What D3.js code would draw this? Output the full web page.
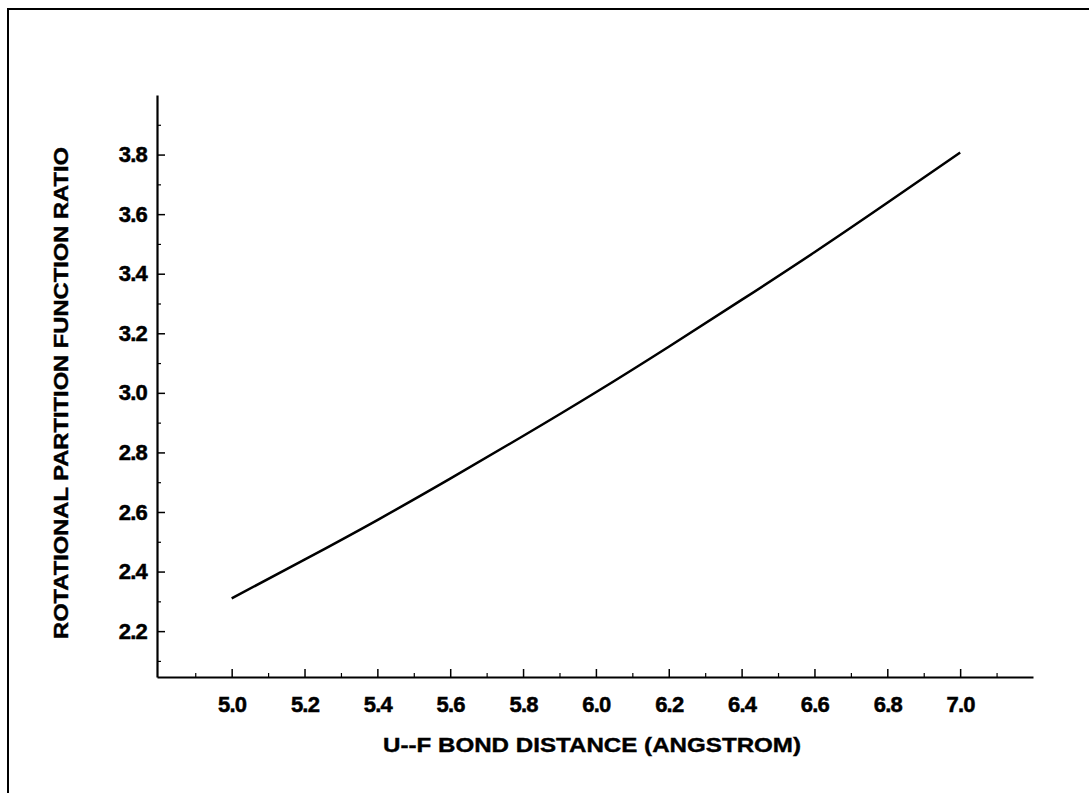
<html>
<script src="https://d3js.org/d3.v7.min.js"></script>
<style>
body{
    margin:0;
    background:#fff;
}
text{
    font-family:"Liberation Sans", Arial, sans-serif;
    font-weight:bold;
}
</style>
<body>
<div class="chart"></div>
</body>
<script>
const width = 1089;
const height = 793;

// curve
const distance = [5.0, 5.2, 5.4, 5.6, 5.8, 6.0, 6.2, 6.4, 6.6, 6.8, 7.0];
const ratio = [2.31, 2.44, 2.573, 2.712, 2.855, 3.002, 3.155, 3.312, 3.472, 3.638, 3.807];

const xMajor = [5.0, 5.2, 5.4, 5.6, 5.8, 6.0, 6.2, 6.4, 6.6, 6.8, 7.0];
const xMinor = [4.9, 5.1, 5.3, 5.5, 5.7, 5.9, 6.1, 6.3, 6.5, 6.7, 6.9, 7.1];
const yMajor = [2.2, 2.4, 2.6, 2.8, 3.0, 3.2, 3.4, 3.6, 3.8];
const yMinor = [2.1, 2.3, 2.5, 2.7, 2.9, 3.1, 3.3, 3.5, 3.7, 3.9];

const xTitle = 'U--F BOND DISTANCE (ANGSTROM)';
const yTitle = 'ROTATIONAL PARTITION FUNCTION RATIO';

const plotLeft = 157, plotRight = 1033, plotTop = 95, plotBottom = 677;

const xScale = d3.scaleLinear()
    .domain([4.795, 7.2])
    .range([plotLeft, plotRight]);

const yScale = d3.scaleLinear()
    .domain([2.046, 4.0])
    .range([plotBottom, plotTop]);

const svg = d3.select('.chart')
    .append('svg')
        .attr('width', width)
        .attr('height', height);

// page frame, only top and left edges show
svg.append('rect')
    .attr('x', 8)
    .attr('y', 9)
    .attr('width', 1200)
    .attr('height', 900)
    .attr('fill', 'none')
    .attr('stroke', 'black')
    .attr('stroke-width', 2);

const styleAxis = g => {
    g.attr('font-size', 22).attr('font-family', null);
    g.select('.domain').attr('stroke-width', 2.2);
    g.selectAll('.tick line').attr('stroke-width', 1.5);
    g.selectAll('.tick text')
        .attr('fill', 'black')
        .attr('stroke', 'black')
        .attr('stroke-width', 0.5)
        .style('letter-spacing', '-0.8px');
};

svg.append('g')
    .attr('transform', `translate(0,${plotBottom})`)
    .call(d3.axisBottom(xScale).tickValues(xMinor).tickSize(-4).tickSizeOuter(0).tickFormat(''))
    .call(g => g.select('.domain').remove())
    .call(g => g.selectAll('.tick line').attr('stroke-width', 1.2));

svg.append('g')
    .attr('transform', `translate(0,${plotBottom})`)
    .call(d3.axisBottom(xScale).tickValues(xMajor).tickSize(-8).tickSizeOuter(0)
        .tickPadding(19).tickFormat(d3.format('.1f')))
    .call(styleAxis);

svg.append('g')
    .attr('transform', `translate(${plotLeft},0)`)
    .call(d3.axisLeft(yScale).tickValues(yMinor).tickSize(-4).tickSizeOuter(0).tickFormat(''))
    .call(g => g.select('.domain').remove())
    .call(g => g.selectAll('.tick line').attr('stroke-width', 1.2));

svg.append('g')
    .attr('transform', `translate(${plotLeft},0)`)
    .call(d3.axisLeft(yScale).tickValues(yMajor).tickSize(-8).tickSizeOuter(0)
        .tickPadding(10).tickFormat(d3.format('.1f')))
    .call(styleAxis)
    .call(g => g.selectAll('.tick text').attr('x', -10));

const line = d3.line()
    .curve(d3.curveNatural)
    .x(d => xScale(d[0]))
    .y(d => yScale(d[1]));

svg.append('path')
    .attr('d', line(d3.zip(distance, ratio)))
    .attr('fill', 'none')
    .attr('stroke', 'black')
    .attr('stroke-width', 2.5);

svg.append('text')
    .attr('x', 592)
    .attr('y', 752)
    .attr('text-anchor', 'middle')
    .attr('font-size', 21)
    .attr('stroke', 'black')
    .attr('stroke-width', 0.4)
    .attr('textLength', 418)
    .attr('lengthAdjust', 'spacingAndGlyphs')
    .text(xTitle);

svg.append('text')
    .attr('transform', 'translate(68,393) rotate(-90)')
    .attr('text-anchor', 'middle')
    .attr('font-size', 21)
    .attr('stroke', 'black')
    .attr('stroke-width', 0.4)
    .attr('textLength', 492)
    .attr('lengthAdjust', 'spacingAndGlyphs')
    .text(yTitle);
</script>
</html>
